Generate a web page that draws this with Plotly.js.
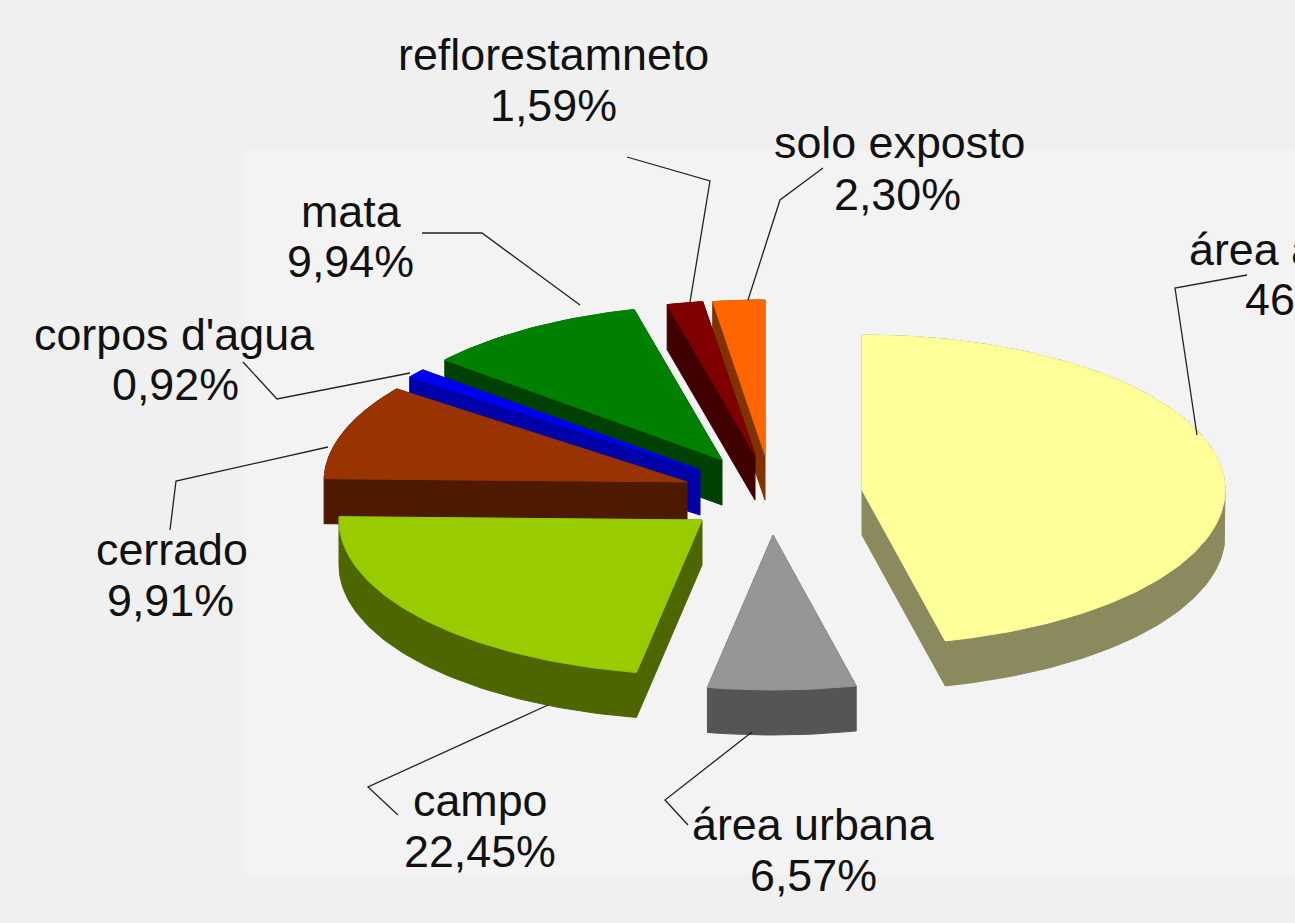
<!DOCTYPE html>
<html><head><meta charset="utf-8">
<script src="https://cdn.plot.ly/plotly-3.0.0.min.js"></script>
<style>html,body{margin:0;padding:0;background:#f0f0f0;overflow:hidden}#c{width:1295px;height:923px}</style>
</head><body><div id="c"></div>
<script>
// Data
const categories = ["área agrícola","área urbana","campo","cerrado","corpos d'agua","mata","reflorestamneto","solo exposto"];
const shares = [46.32,6.57,22.45,9.91,0.92,9.94,1.59,2.30];
const shareLabels = ["46,32%","6,57%","22,45%","9,91%","0,92%","9,94%","1,59%","2,30%"];

// Styling and layout
const topColors = ["#FFFF99","#969696","#99CC00","#993300","#0000F0","#008000","#800000","#FF6600"];
const sideColors = ["#8A8A5E","#555555","#4D6600","#4D1A00","#0000A8","#004000","#400000","#803300"];
const apexX = [862,773,702,687,700,722,755,765];
const apexY = [490,535,520,482,470,460,455,455];
const drawOrder = [7,6,5,4,3,2,1,0];
const radiusX = 363, radiusY = 155, depth = 45;
const nameX = [1187,813,480,172,174,351,553,900];
const nameY = [249,824,800,549,334,211,54,142];
const valueX = [1243,813,480,170,175,350,553,897];
const valueY = [299,875,851,600,384,261,105,194];
const leaders = [
 "M1247,275 L1175,288 L1197,435","M752,732 L665,800 L688,825","M548,705 L368,787 L398,815",
 "M170,530 L176,481 L328,447","M243,362 L277,399 L410,373","M422,233 L482,233 L580,305",
 "M627,157 L710,181 L690,302","M823,168 L780,200 L748,300"];

const total = shares.reduce((a,b)=>a+b,0);
let cum = 0;
const starts = shares.map(v=>{const s=cum;cum+=v;return s;});

function outline(i){
  const pts=[[apexX[i],apexY[i]]];
  const a0=starts[i]/total*2*Math.PI, a1=(starts[i]+shares[i])/total*2*Math.PI;
  const n=Math.max(4,Math.ceil((a1-a0)/0.02));
  for(let k=0;k<=n;k++){
    const a=a0+(a1-a0)*k/n;
    pts.push([apexX[i]+radiusX*Math.sin(a),apexY[i]-radiusY*Math.cos(a)]);
  }
  return pts;
}
function hull(p){
  p=p.slice().sort((a,b)=>a[0]-b[0]||a[1]-b[1]);
  const cross=(o,a,b)=>(a[0]-o[0])*(b[1]-o[1])-(a[1]-o[1])*(b[0]-o[0]);
  const lo=[],up=[];
  for(const q of p){while(lo.length>1&&cross(lo[lo.length-2],lo[lo.length-1],q)<=0)lo.pop();lo.push(q);}
  for(const q of p.slice().reverse()){while(up.length>1&&cross(up[up.length-2],up[up.length-1],q)<=0)up.pop();up.push(q);}
  return lo.slice(0,-1).concat(up.slice(0,-1));
}
const poly=(pts,color,name)=>{const c=pts.concat([pts[0]]);return {
  type:'scatter',mode:'lines',x:c.map(p=>p[0]),y:c.map(p=>p[1]),fill:'toself',fillcolor:color,
  line:{color:color,width:1},name:name,hoverinfo:'name',showlegend:false};};

const traces=[];
for(const i of drawOrder){
  const top=outline(i);
  const low=top.map(p=>[p[0],p[1]+depth]);
  traces.push(poly(hull(top.concat(low)),sideColors[i],categories[i]));
  traces.push(poly(top,topColors[i],categories[i]));
}

const font={family:'"Liberation Sans",Arial,sans-serif',size:44.8,color:'#111111'};
const annotations=[];
categories.forEach((c,i)=>{
  const clipped=i===0;
  annotations.push({xref:'x',yref:'y',x:nameX[i],y:nameY[i],text:c,showarrow:false,font,xanchor:clipped?'left':'center',yanchor:'middle'});
  annotations.push({xref:'x',yref:'y',x:valueX[i],y:valueY[i],text:shareLabels[i],showarrow:false,font,xanchor:clipped?'left':'center',yanchor:'middle'});
});
const shapes=[{type:'rect',xref:'x',yref:'y',x0:245,x1:1295,y0:150,y1:875,fillcolor:'#F4F3F4',line:{width:0},layer:'below'}]
 .concat(leaders.map(path=>({type:'path',xref:'x',yref:'y',path,line:{color:'#222222',width:1.3}})));

Plotly.newPlot('c',traces,{
  width:1295,height:923,margin:{l:0,r:0,t:0,b:0},
  paper_bgcolor:'#F0F0F0',plot_bgcolor:'rgba(0,0,0,0)',showlegend:false,
  xaxis:{range:[0,1295],visible:false,fixedrange:true},
  yaxis:{range:[923,0],visible:false,fixedrange:true},
  annotations,shapes
},{displayModeBar:false,staticPlot:true});
</script></body></html>
